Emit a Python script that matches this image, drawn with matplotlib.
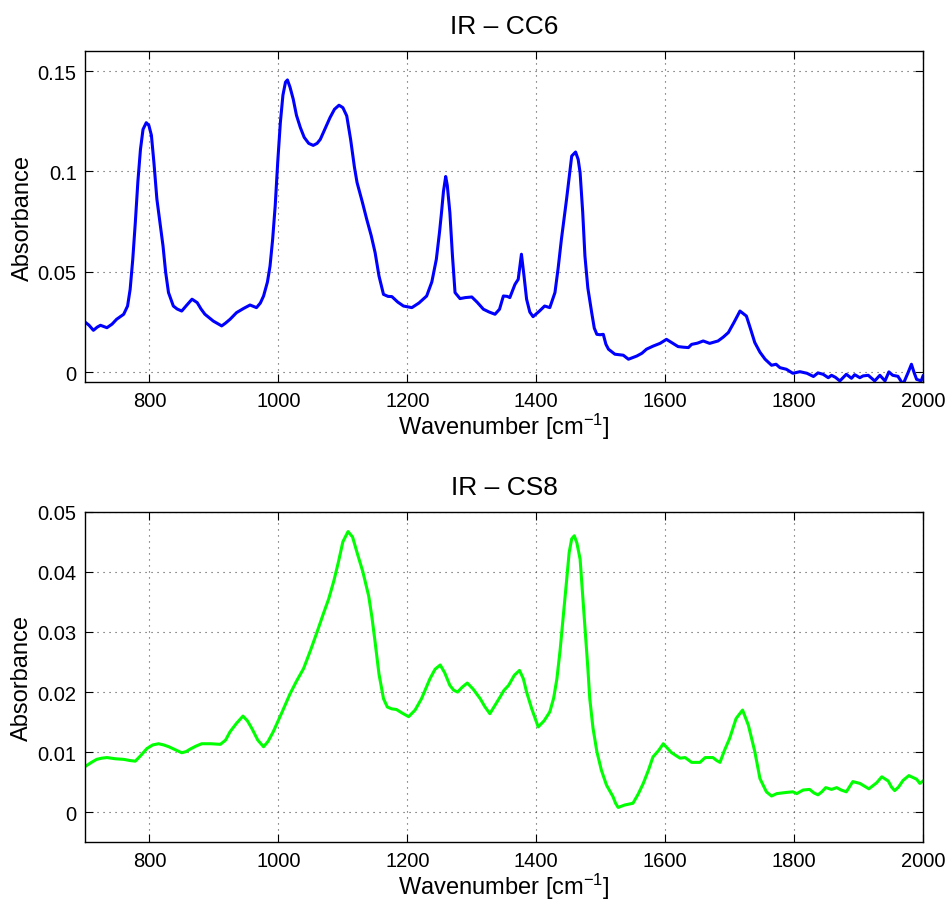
import matplotlib
matplotlib.use("Agg")
import matplotlib.pyplot as plt
from matplotlib.ticker import FuncFormatter

plt.rcParams['font.family'] = ['Liberation Sans', 'DejaVu Sans']
plt.rcParams['mathtext.fontset'] = 'custom'
plt.rcParams['mathtext.rm'] = 'Liberation Sans'
plt.rcParams['mathtext.it'] = 'Liberation Sans:italic'
plt.rcParams['axes.unicode_minus'] = True

# IR spectrum of sample CC6
cc6_wavenumber = [
    700, 706, 713, 719, 724, 729, 734, 742, 749, 760, 766, 770, 774, 778, 782, 786, 790, 795, 799, 803,
    807, 811.5, 816, 821, 825, 829.5, 837, 843, 850, 858, 866, 874, 880, 886, 899, 912, 918, 925, 935, 946,
    956, 966, 972, 977, 983, 987, 991, 995, 999, 1003, 1007, 1011, 1014, 1018, 1023, 1028, 1034, 1040, 1047, 1054,
    1060, 1065, 1072, 1080, 1087, 1094, 1100, 1106, 1112, 1118, 1122, 1130, 1137, 1144, 1150, 1156, 1163, 1170, 1176, 1185,
    1194, 1207, 1218, 1230, 1238, 1245, 1250, 1253, 1256, 1259.5, 1262, 1266, 1270, 1274, 1281.7, 1290, 1300, 1308, 1318, 1327,
    1336, 1343, 1349, 1355, 1359, 1367, 1372, 1377, 1381, 1385, 1390, 1395, 1405, 1413, 1421, 1429, 1434, 1439, 1447, 1455,
    1461, 1465, 1468, 1472, 1475.5, 1480, 1486, 1490, 1494, 1499, 1504, 1508, 1512, 1522, 1535, 1543, 1556, 1564, 1571, 1581,
    1592, 1602, 1610, 1620, 1628, 1636, 1641, 1650, 1659, 1669, 1682, 1690, 1698, 1707, 1716, 1726, 1732, 1739, 1747, 1755,
    1765, 1772, 1778, 1788, 1798, 1809, 1820, 1830, 1837, 1845, 1853, 1858, 1864, 1871, 1881, 1889, 1894, 1902, 1907, 1915,
    1925, 1933, 1941, 1947, 1953, 1961, 1969, 1977, 1982, 1986, 1990, 1997, 2000,
]
cc6_absorbance = [
    0.0250, 0.0235, 0.0209, 0.0225, 0.0234, 0.0228, 0.0222, 0.0240, 0.0264, 0.0289, 0.0330, 0.0413, 0.0560, 0.0745, 0.0950, 0.1110, 0.1210, 0.1243, 0.1230, 0.1180,
    0.1040, 0.0862, 0.0750, 0.0629, 0.0500, 0.0397, 0.0330, 0.0315, 0.0305, 0.0335, 0.0364, 0.0347, 0.0315, 0.0289, 0.0255, 0.0231, 0.0245, 0.0264, 0.0297, 0.0318,
    0.0335, 0.0322, 0.0345, 0.0380, 0.0450, 0.0529, 0.0660, 0.0828, 0.1050, 0.1243, 0.1380, 0.1445, 0.1456, 0.1420, 0.1360, 0.1280, 0.1219, 0.1170, 0.1140, 0.1130,
    0.1140, 0.1160, 0.1210, 0.1268, 0.1310, 0.1330, 0.1318, 0.1277, 0.1160, 0.1020, 0.0945, 0.0850, 0.0762, 0.0680, 0.0596, 0.0480, 0.0388, 0.0378, 0.0377, 0.0350,
    0.0330, 0.0322, 0.0345, 0.0380, 0.0450, 0.0563, 0.0700, 0.0795, 0.0900, 0.0975, 0.0930, 0.0795, 0.0580, 0.0397, 0.0367, 0.0372, 0.0375, 0.0350, 0.0314, 0.0300,
    0.0289, 0.0314, 0.0380, 0.0378, 0.0372, 0.0438, 0.0463, 0.0588, 0.0480, 0.0364, 0.0300, 0.0277, 0.0305, 0.0330, 0.0322, 0.0397, 0.0520, 0.0662, 0.0862, 0.1077,
    0.1097, 0.1060, 0.0994, 0.0800, 0.0579, 0.0420, 0.0297, 0.0220, 0.0189, 0.0187, 0.0189, 0.0140, 0.0115, 0.0090, 0.0085, 0.0065, 0.0081, 0.0095, 0.0115, 0.0130,
    0.0144, 0.0164, 0.0148, 0.0128, 0.0125, 0.0123, 0.0139, 0.0145, 0.0156, 0.0144, 0.0156, 0.0175, 0.0198, 0.0250, 0.0305, 0.0280, 0.0220, 0.0148, 0.0100, 0.0065,
    0.0035, 0.0040, 0.0023, 0.0015, -0.0005, 0.0003, -0.0005, -0.0021, -0.0003, -0.0010, -0.0027, -0.0015, -0.0025, -0.0043, -0.0010, -0.0030, -0.0012, -0.0027, -0.0018, -0.0015,
    -0.0043, -0.0015, -0.0043, 0.0002, -0.0015, -0.0020, -0.0060, 0.0000, 0.0040, 0.0000, -0.0035, -0.0043, -0.0018,
]

# IR spectrum of sample CS8
cs8_wavenumber = [
    700, 710, 718, 726, 734, 747, 760, 770, 778, 787, 796, 805, 814, 822, 830, 840, 850, 857, 863, 872,
    881, 895, 910, 918, 925, 935, 945, 952, 959, 968, 977, 984, 992, 1005, 1018, 1028, 1039, 1050, 1060, 1069,
    1078, 1086, 1093, 1100, 1108, 1115, 1122, 1131, 1140, 1145, 1150, 1156, 1163, 1169, 1176, 1183, 1192, 1202, 1212, 1222,
    1235, 1243, 1251, 1258, 1266, 1272, 1278, 1285, 1293, 1302, 1313, 1320, 1328, 1336, 1344, 1350, 1357, 1366, 1374, 1380,
    1385, 1393, 1403, 1412, 1421, 1427, 1432, 1437, 1442, 1447, 1451, 1455, 1459, 1463, 1468, 1472, 1476, 1480, 1483, 1488,
    1494, 1501, 1509, 1519, 1523, 1527, 1537, 1550, 1558, 1566, 1574, 1581, 1590, 1597, 1603, 1610, 1623, 1631, 1641, 1654,
    1662, 1674, 1680, 1685, 1692, 1700, 1710, 1720, 1729, 1739, 1747, 1757, 1765, 1773, 1788, 1798, 1804, 1814, 1824, 1831,
    1837, 1843, 1849, 1858, 1866, 1873, 1881, 1891, 1902, 1916, 1928, 1936, 1946, 1951, 1956, 1962, 1969, 1978, 1990, 1995,
    2000,
]
cs8_absorbance = [
    0.0076, 0.0083, 0.0088, 0.0090, 0.0091, 0.0089, 0.0088, 0.0086, 0.0085, 0.0095, 0.0106, 0.0112, 0.0114, 0.0112, 0.0109, 0.0104, 0.0099, 0.0101, 0.0105, 0.0110,
    0.0114, 0.0114, 0.0113, 0.0120, 0.0134, 0.0148, 0.0160, 0.0152, 0.0139, 0.0120, 0.0109, 0.0118, 0.0134, 0.0165, 0.0197, 0.0218, 0.0239, 0.0270, 0.0300, 0.0328,
    0.0355, 0.0385, 0.0416, 0.0450, 0.0467, 0.0458, 0.0432, 0.0400, 0.0360, 0.0325, 0.0283, 0.0230, 0.0189, 0.0175, 0.0172, 0.0171, 0.0165, 0.0159, 0.0170, 0.0189,
    0.0222, 0.0238, 0.0245, 0.0232, 0.0211, 0.0203, 0.0200, 0.0208, 0.0215, 0.0205, 0.0189, 0.0176, 0.0164, 0.0178, 0.0192, 0.0203, 0.0211, 0.0228, 0.0236, 0.0222,
    0.0200, 0.0172, 0.0142, 0.0152, 0.0167, 0.0190, 0.0222, 0.0270, 0.0327, 0.0385, 0.0432, 0.0455, 0.0460, 0.0448, 0.0421, 0.0360, 0.0300, 0.0240, 0.0189, 0.0140,
    0.0101, 0.0070, 0.0045, 0.0026, 0.0015, 0.0008, 0.0012, 0.0015, 0.0030, 0.0048, 0.0070, 0.0092, 0.0103, 0.0114, 0.0107, 0.0099, 0.0090, 0.0091, 0.0083, 0.0083,
    0.0091, 0.0091, 0.0086, 0.0083, 0.0103, 0.0123, 0.0156, 0.0170, 0.0145, 0.0101, 0.0056, 0.0034, 0.0027, 0.0031, 0.0033, 0.0034, 0.0031, 0.0037, 0.0038, 0.0032,
    0.0029, 0.0034, 0.0041, 0.0038, 0.0041, 0.0037, 0.0034, 0.0051, 0.0048, 0.0039, 0.0049, 0.0059, 0.0052, 0.0042, 0.0036, 0.0042, 0.0053, 0.0061, 0.0055, 0.0048,
    0.0052,
]

x_ticks = [800, 1000, 1200, 1400, 1600, 1800, 2000]

panels = [
    ("IR \u2013 CC6", cc6_wavenumber, cc6_absorbance, (0, 0, 1), (-0.005, 0.16), [0, 0.05, 0.1, 0.15]),
    ("IR \u2013 CS8", cs8_wavenumber, cs8_absorbance, (0, 1, 0), (-0.005, 0.05), [0, 0.01, 0.02, 0.03, 0.04, 0.05]),
]

fig = plt.figure(figsize=(9.51, 9.03), dpi=100)
boxes = [
    [0.0894, 0.5755, 0.8812, 0.3669],
    [0.0894, 0.0661, 0.8812, 0.3661],
]

fmt = FuncFormatter(lambda v, pos: ("%g" % round(v, 4)))

for (title, wn, ab, color, ylim, yticks), box in zip(panels, boxes):
    ax = fig.add_axes(box)
    ax.plot(wn, ab, color=color, lw=2.2, solid_joinstyle='round')
    ax.set_xlim(700, 2000)
    ax.set_ylim(*ylim)
    ax.set_xticks(x_ticks)
    ax.set_yticks(yticks)
    ax.yaxis.set_major_formatter(fmt)
    ax.grid(True, linestyle=(0, (1, 4.4)), color='0.3', linewidth=0.8)
    ax.tick_params(direction='in', top=True, right=True, length=6, width=0.8,
                   labelsize=14.5, pad=6)
    for s in ax.spines.values():
        s.set_linewidth(1.0)
    ax.set_title(title, fontsize=19, pad=13)
    ax.set_xlabel("Wavenumber [cm$^{\u22121}$]", fontsize=17, labelpad=1)
    ax.set_ylabel("Absorbance", fontsize=17, labelpad=3)

fig.savefig("out.png", dpi=100)
